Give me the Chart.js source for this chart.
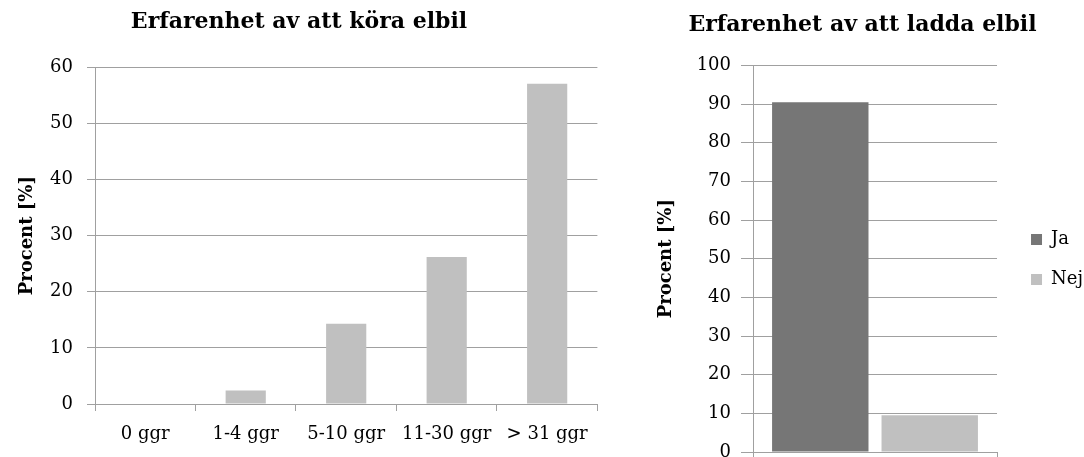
<!DOCTYPE html>
<html lang="sv">
<head>
<meta charset="utf-8">
<title>Erfarenhet av elbil</title>
<script src="https://cdn.jsdelivr.net/npm/chart.js@4.4.1/dist/chart.umd.min.js"></script>
<style>
  html, body { margin: 0; padding: 0; background: #fff; overflow: hidden; width: 1084px; height: 457px; }
  #driving { position: absolute; left: 0; top: 0; }
  #charging { position: absolute; left: 644px; top: 0; }
</style>
</head>
<body>
<canvas id="driving" width="601" height="457"></canvas>
<canvas id="charging" width="440" height="490"></canvas>
<script>
// Driving experience: share of respondents per number of trips
const drivingCategories = ['0 ggr', '1-4 ggr', '5-10 ggr', '11-30 ggr', '> 31 ggr'];
const drivingPercent = [0, 2.4, 14.3, 26.2, 57.1];
const drivingTicks = [0, 10, 20, 30, 40, 50, 60];

// Charging experience: yes / no
const chargingSeries = ['Ja', 'Nej'];
const chargingPercent = [90.5, 9.5];
const chargingColors = ['#767676', '#c0c0c0'];
const chargingTicks = [0, 10, 20, 30, 40, 50, 60, 70, 80, 90, 100];

const GRID = '#a0a0a0';
Chart.defaults.font.family = "'DejaVu Serif', serif";
Chart.defaults.color = '#000';
Chart.defaults.animation = false;

// moves the legend block after layout so it sits beside the plot
const legendShift = {
  id: 'legendShift',
  afterLayout(chart, args, opts) {
    const lg = chart.legend;
    if (!lg || !opts) return;
    const dx = opts.dx || 0, dy = opts.dy || 0;
    lg.left += dx; lg.right += dx;
    lg.top += dy; lg.bottom += dy;
  }
};

function yAxis(ticks, o) {
  return {
    min: ticks[0],
    max: ticks[ticks.length - 1],
    ticks: { stepSize: ticks[1] - ticks[0], padding: o.tickPad, font: { size: 18 }, color: '#000' },
    grid: { color: GRID, tickLength: o.tickLen, drawTicks: true },
    border: { color: GRID },
    title: {
      display: true, text: 'Procent [%]', color: '#000',
      font: { size: 18, weight: 'bold' },
      padding: { top: o.titlePad, bottom: 0 }
    },
    afterFit(scale) { scale.width = o.width; }
  };
}

function xAxis(o) {
  return {
    grid: { drawOnChartArea: false, color: GRID, tickLength: 7 },
    border: { color: GRID },
    ticks: { padding: 13, font: { size: 18 }, color: '#000', maxRotation: 0, autoSkip: false },
    afterFit(scale) { scale.height = o.height; }
  };
}

new Chart(document.getElementById('driving'), {
  type: 'bar',
  data: {
    labels: drivingCategories,
    datasets: [{
      label: 'Procent',
      data: drivingPercent,
      backgroundColor: '#c0c0c0',
      categoryPercentage: 0.8,
      barPercentage: 0.5
    }]
  },
  options: {
    responsive: false,
    devicePixelRatio: 1,
    layout: { padding: { left: 0, right: 3, top: 0, bottom: 0 } },
    plugins: {
      legend: { display: false },
      tooltip: { enabled: false },
      title: {
        display: true, text: 'Erfarenhet av att köra elbil', color: '#000',
        font: { size: 22, weight: 'bold' },
        padding: { top: 9, bottom: 32 }
      }
    },
    scales: {
      x: xAxis({ height: 53 }),
      y: yAxis(drivingTicks, { tickPad: 14, tickLen: 8, titlePad: 17, width: 95 })
    }
  }
});

new Chart(document.getElementById('charging'), {
  type: 'bar',
  data: {
    labels: [''],
    datasets: chargingSeries.map((name, i) => ({
      label: name,
      data: [chargingPercent[i]],
      backgroundColor: chargingColors[i],
      borderWidth: 0,
      categoryPercentage: 0.897,
      barPercentage: 0.881
    }))
  },
  plugins: [legendShift],
  options: {
    responsive: false,
    devicePixelRatio: 1,
    layout: { padding: { left: 0, right: 3, top: 0, bottom: 0 } },
    plugins: {
      tooltip: { enabled: false },
      title: {
        display: true, text: 'Erfarenhet av att ladda elbil', color: '#000',
        font: { size: 22, weight: 'bold' },
        padding: { top: 12, bottom: 27 }
      },
      legend: {
        position: 'right',
        labels: { boxWidth: 11, boxHeight: 11, padding: 22, font: { size: 18 }, color: '#000' }
      },
      legendShift: { dx: 12, dy: 14.5 }
    },
    scales: {
      x: xAxis({ height: 38 }),
      y: yAxis(chargingTicks, { tickPad: 10, tickLen: 12, titlePad: 12, width: 109 })
    }
  }
});
</script>
</body>
</html>
